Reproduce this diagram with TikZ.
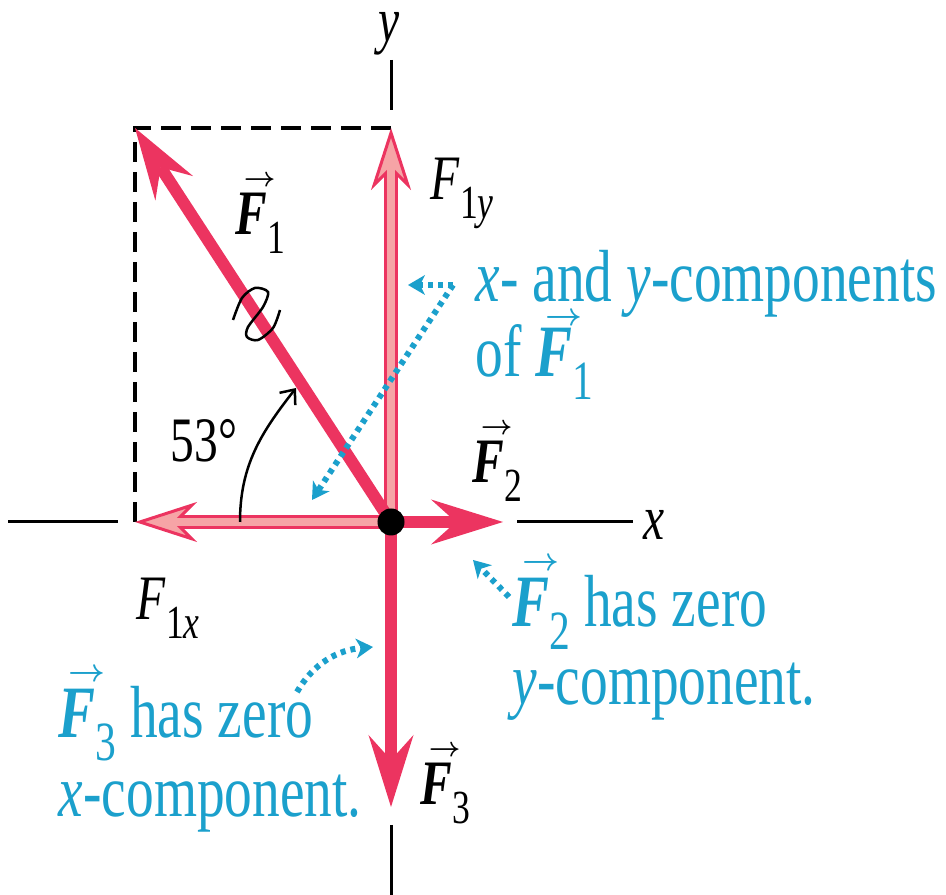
\documentclass[tikz,border=0pt]{standalone}
\usepackage{fontspec}
\usepackage{graphicx}
\setmainfont{Liberation Serif}[FakeStretch=0.75]
\usetikzlibrary{arrows.meta}
\definecolor{cred}{RGB}{236,52,96}
\definecolor{cpink}{RGB}{246,164,166}
\definecolor{cblue}{RGB}{27,160,204}
\newcommand{\lowsub}[1]{\raisebox{-0.3em}{\scalebox{0.75}{#1}}}
\newcommand{\vF}[2][0.76em]{\mbox{\rlap{\smash{\hspace{0.13em}\raisebox{#1}{\resizebox{0.5em}{!}{\boldmath$\rightarrow$}}}}\textbf{\textit{F}}\lowsub{#2}}}

\begin{document}
\begin{tikzpicture}[
  x = 0.01cm, y = 0.01cm,
  force/.style = {draw=cred, line width=0.12cm,
                  -{Stealth[length=0.72cm, width=0.45cm, inset=0.25cm, line width=0pt]}},
  comp/.style  = {draw=cpink, line width=0.08cm,
                  -{Stealth[length=0.62cm, width=0.4cm, inset=0.2cm, line width=0.03cm, color=cred, fill=cpink]},
                  preaction={draw=cred, line width=0.14cm, -, shorten >=0.45cm},
                  postaction={draw=cpink, line width=0.08cm, -, shorten >=0.36cm}},
  axis/.style  = {draw=black, line width=0.03cm},
  ptr/.style   = {draw=cblue, line width=0.06cm, dash pattern=on 0.05cm off 0.05cm,
                  -{Stealth[length=0.17cm, width=0.2cm, inset=0.05cm, line width=0pt]}},
  lbl/.style   = {inner sep=0pt, anchor=base west, font=\fontsize{18pt}{20pt}\selectfont},
  note/.style  = {inner sep=0pt, anchor=base west, align=left, text=cblue,
                  font=\fontsize{21pt}{#1}\selectfont},
]
\useasboundingbox (0,0) rectangle (946,895);
% Points
\coordinate (O)    at (391,373);
\coordinate (tF1)  at (135,767);
\coordinate (tF1y) at (391,767);
\coordinate (tF1x) at (135,373);
\coordinate (tF2)  at (503,373);
\coordinate (tF3)  at (391,88);
% Axes and dashed box
\draw[axis] (391,835) -- (391,785);
\draw[axis] (391,70) -- (391,0);
\draw[axis] (8,373) -- (118,373);
\draw[axis] (517,373) -- (633,373);
\draw[axis, line width=0.035cm, dash pattern=on 0.2cm off 0.1cm] (tF1y) -- (tF1) -- (tF1x);
\node[lbl] (ly) at (378,853) {\textit{y}};
\node[lbl] (lx) at (643,355) {\textit{x}};
% Components
\draw[comp] (O) -- (tF1y);
\draw[comp] (O) -- (tF1x);
% Forces
\draw[force] (O) -- (tF1);
\draw[force] (O) -- (tF2);
\draw[force] (O) -- (tF3);
\node[circle, fill=black, inner sep=0pt, minimum size=0.27cm] (dot) at (O) {};
% Angle and squiggle
\coordinate (a0) at (240,373);
\coordinate (a1) at (296,507);
\draw[line width=0.025cm, -{Straight Barb[length=0.12cm, width=0.2cm]}] (a0) to[out=90, in=232] (a1);
\draw[line width=0.025cm] plot[smooth] coordinates {(233,575) (242,597) (255,607) (268,603)
  (263,588) (248,568) (247,558) (258,555) (273,567) (280,585)};
% Labels
\node[lbl] (lF1)  at (235,660) {\vF{1}};
\node[lbl] (lF1y) at (430,695) {\textit{F}\lowsub{1\textit{y}}};
\node[lbl] (lF2)  at (472,412) {\vF{2}};
\node[lbl] (lF1x) at (136,275) {\textit{F}\lowsub{1\textit{x}}};
\node[lbl] (lF3)  at (420,90)  {\vF{3}};
\node[lbl] (lang) at (170,433) {53°};
% Notes (anchored at the last line)
\node[note=21.5pt] (ncmp) at (475,518) {\textit{x}- and \textit{y}-components\\of \vF[0.7em]{1}};
\node[note=22.2pt] (nF2)  at (512,190) {\vF{2} has zero\\\textit{y}-component.};
\node[note=22.5pt] (nF3)  at (58,78)   {\vF{3} has zero\\\textit{x}-component.};
% Pointers
\coordinate (cj)  at (453,610);
\coordinate (pA)  at (408,610);
\coordinate (pB)  at (312,395);
\coordinate (p2s) at (509,298);
\coordinate (p2e) at (473,335);
\coordinate (p3s) at (297,203);
\coordinate (p3e) at (373,248);
\draw[ptr] (cj) -- (pA);
\draw[ptr] (cj) -- (pB);
\draw[ptr] (p2s) -- (p2e);
\draw[ptr] (p3s) to[out=60, in=185] (p3e);
\end{tikzpicture}
\end{document}
